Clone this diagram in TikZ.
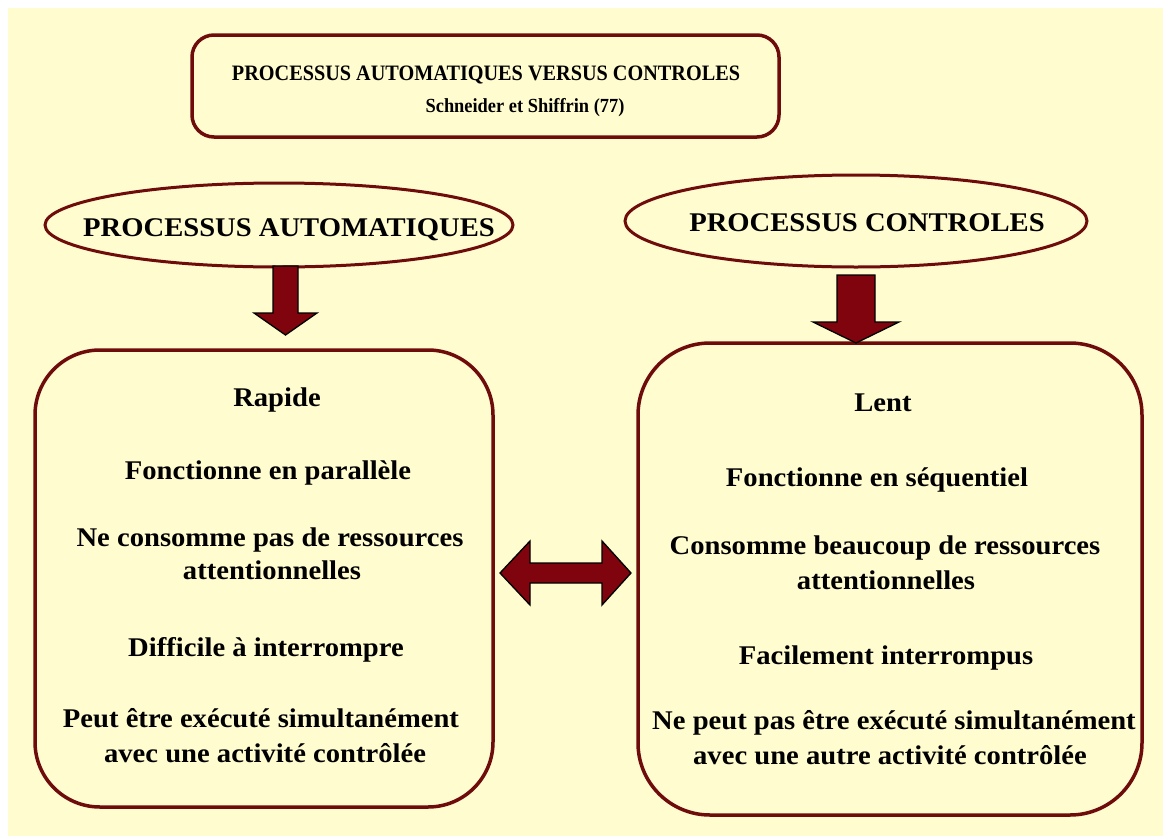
\documentclass[tikz,border=0pt]{standalone}
\usepackage{fontspec}
\setmainfont{Liberation Serif}[FakeStretch=1.06]
\newfontfamily\titlefont{Liberation Serif}[FakeStretch=0.92]
\usetikzlibrary{shapes.geometric}
\definecolor{cream}{RGB}{255,252,208}
\definecolor{boxred}{RGB}{110,12,12}
\definecolor{arrowred}{RGB}{128,4,14}
\tikzset{
  frame/.style={draw=boxred, line width=3.5pt, fill=cream, rounded corners=#1, inner sep=0pt},
  oval/.style={draw=boxred, line width=3pt, ellipse, inner sep=0pt},
  txt/.style={anchor=base, inner sep=0pt, font=\bfseries\fontsize{27}{33}\selectfont},
  ovaltxt/.style={anchor=base, inner sep=0pt, font=\bfseries\fontsize{27}{33}\selectfont},
  ttl/.style={anchor=base, inner sep=0pt, font=\titlefont\bfseries\fontsize{22}{26}\selectfont},
  blockarrow/.style={draw=black, line width=1.3pt, fill=arrowred, line join=miter}
}
\begin{document}
\begin{tikzpicture}[x=1pt,y=-1pt]
\useasboundingbox (0,0) rectangle (1163,836);
\fill[white] (0,0) rectangle (1163,836);
\fill[cream] (8,8) rectangle (1163,836);

% title box
\node[frame=22pt, minimum width=587pt, minimum height=102pt] (top) at (485.5,86) {};
\node[ttl] (t1) at (486,80) {PROCESSUS AUTOMATIQUES VERSUS CONTROLES};
\node[ttl, font=\titlefont\bfseries\fontsize{20}{24}\selectfont] (t2) at (525,112) {Schneider et Shiffrin (77)};

% ellipses
\node[oval, minimum width=468pt, minimum height=84pt] (eA) at (279,225) {};
\node[ovaltxt] (eAt) at (289,236) {PROCESSUS AUTOMATIQUES};
\node[oval, minimum width=462pt, minimum height=92pt] (eC) at (856,221) {};
\node[ovaltxt] (eCt) at (867,231) {PROCESSUS CONTROLES};

% big boxes
\node[frame=65pt, minimum width=458pt, minimum height=457pt] (bA) at (264,578.5) {};
\node[frame=72pt, minimum width=504pt, minimum height=472pt] (bC) at (890,579) {};

% down arrows
\draw[blockarrow] (273,266) -- (298,266) -- (298,313) -- (317,313) -- (285.5,335)
  -- (254,313) -- (273,313) -- cycle;
\draw[blockarrow] (837,275) -- (875,275) -- (875,322) -- (899,322) -- (856,343)
  -- (813,322) -- (837,322) -- cycle;

% double arrow
\draw[blockarrow] (500,573) -- (530,541) -- (530,563) -- (602,563) -- (602,541)
  -- (631,573) -- (602,605) -- (602,583) -- (530,583) -- (530,605) -- cycle;

% left box text
\node[txt] (a1) at (277,406) {Rapide};
\node[txt] (a2) at (268,479) {Fonctionne en parallèle};
\node[txt] (a3) at (270,546) {Ne consomme pas de ressources};
\node[txt] (a4) at (272,579) {attentionnelles};
\node[txt] (a5) at (266,656) {Difficile à interrompre};
\node[txt] (a6) at (261,727) {Peut être exécuté simultanément};
\node[txt] (a7) at (265,762) {avec une activité contrôlée};

% right box text
\node[txt] (c1) at (883,411) {Lent};
\node[txt] (c2) at (877,486) {Fonctionne en séquentiel};
\node[txt] (c3) at (885,554) {Consomme beaucoup de ressources};
\node[txt] (c4) at (886,589) {attentionnelles};
\node[txt] (c5) at (886,664) {Facilement interrompus};
\node[txt] (c6) at (894,729) {Ne peut pas être exécuté simultanément};
\node[txt] (c7) at (890,764) {avec une autre activité contrôlée};
\end{tikzpicture}
\end{document}
